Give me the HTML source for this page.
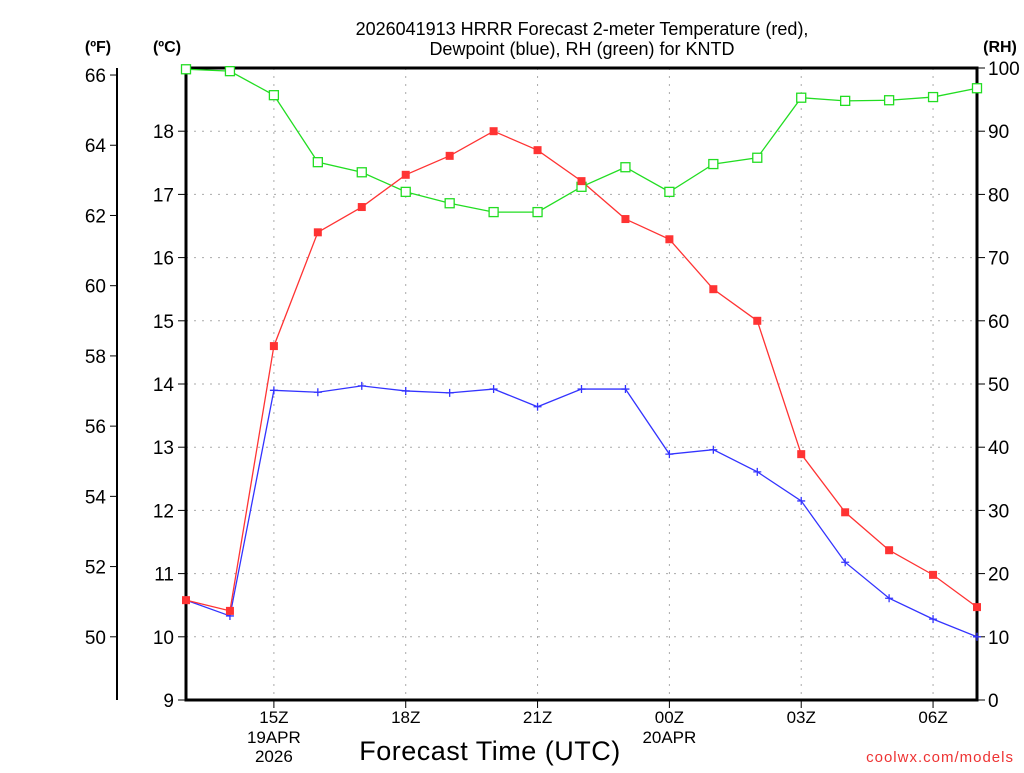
<!DOCTYPE html>
<html><head><meta charset="utf-8"><style>
body{margin:0;background:#fff;}
svg text{font-family:"Liberation Sans",sans-serif;}
</style></head><body>
<svg id="chart" width="1024" height="768" xmlns="http://www.w3.org/2000/svg">
<g id="grid"></g>
<g id="axes"></g>
<g id="series"></g>
<text x="582" y="35" text-anchor="middle" font-size="18">2026041913 HRRR Forecast 2-meter Temperature (red),</text>
<text x="582" y="55" text-anchor="middle" font-size="18">Dewpoint (blue), RH (green) for KNTD</text>
<text x="98" y="52" text-anchor="middle" font-size="16" font-weight="bold">(ºF)</text>
<text x="167" y="52" text-anchor="middle" font-size="16" font-weight="bold">(ºC)</text>
<text x="1000" y="52" text-anchor="middle" font-size="16" font-weight="bold">(RH)</text>
<text x="490" y="760" text-anchor="middle" font-size="27" letter-spacing="0.5">Forecast Time (UTC)</text>
<text x="1014" y="762" text-anchor="end" font-size="15" fill="#e33" letter-spacing="1">coolwx.com/models</text>
</svg>
<script>
const hours=[13,14,15,16,17,18,19,20,21,22,23,24,25,26,27,28,29,30,31];
const tempC=[10.58,10.41,14.6,16.4,16.8,17.31,17.61,18.0,17.7,17.21,16.61,16.29,15.5,15.0,12.89,11.97,11.37,10.98,10.47];
const dewC=[10.58,10.33,13.9,13.87,13.97,13.89,13.86,13.92,13.64,13.92,13.92,12.89,12.96,12.61,12.15,11.18,10.61,10.28,10.0];
const rh=[99.8,99.5,95.7,85.1,83.5,80.4,78.6,77.2,77.2,81.2,84.3,80.4,84.8,85.8,95.3,94.8,94.9,95.4,96.8];
const cTicks=[9,10,11,12,13,14,15,16,17,18];
const fTicks=[50,52,54,56,58,60,62,64,66];
const rhTicks=[0,10,20,30,40,50,60,70,80,90,100];
const xTickHours=[15,18,21,24,27,30];
const xTickLabels=["15Z","18Z","21Z","00Z","03Z","06Z"];
const L=186,R=977,T=68,B=700;
const NS="http://www.w3.org/2000/svg";
const xs=h=>L+(h-13)/(31-13)*(R-L);
const yc=c=>B-(c-9)*(B-T)/10;
const yf=f=>yc((f-32)/1.8);
const yr=r=>B-r*(B-T)/100;
function mk(p,tag,at,txt){const e=document.createElementNS(NS,tag);for(const k in at)e.setAttribute(k,at[k]);if(txt!==undefined)e.textContent=txt;document.getElementById(p).appendChild(e);return e;}
for(const c of cTicks){if(c>9){const g=mk('grid','line',{x1:L,x2:R,y1:yc(c),y2:yc(c),stroke:'#aaa','stroke-dasharray':'2,6'});}
 const t=mk('axes','line',{x1:L-8,x2:L,y1:yc(c),y2:yc(c),stroke:'#000'});
 const l=mk('axes','text',{x:L-12,y:yc(c)+7,'text-anchor':'end','font-size':'19'},c);}
for(const f of fTicks){const t=mk('axes','line',{x1:110,x2:117,y1:yf(f),y2:yf(f),stroke:'#000'});
 const l=mk('axes','text',{x:106,y:yf(f)+7,'text-anchor':'end','font-size':'19'},f);}
for(const r of rhTicks){const t=mk('axes','line',{x1:R,x2:R+8,y1:yr(r),y2:yr(r),stroke:'#000'});
 const l=mk('axes','text',{x:R+11,y:yr(r)+7,'text-anchor':'start','font-size':'19'},r);}
xTickHours.forEach((h,i)=>{const g=mk('grid','line',{x1:xs(h),x2:xs(h),y1:T,y2:B,stroke:'#aaa','stroke-dasharray':'2,6'});
 const t=mk('axes','line',{x1:xs(h),x2:xs(h),y1:B,y2:B+8,stroke:'#000'});
 const l=mk('axes','text',{x:xs(h),y:B+23,'text-anchor':'middle','font-size':'17'},xTickLabels[i]);});
const d1=mk('axes','text',{x:xs(15),y:B+43,'text-anchor':'middle','font-size':'17'},'19APR');
const d2=mk('axes','text',{x:xs(15),y:B+62,'text-anchor':'middle','font-size':'17'},'2026');
const d3=mk('axes','text',{x:xs(24),y:B+43,'text-anchor':'middle','font-size':'17'},'20APR');
const fa=mk('axes','line',{x1:117,x2:117,y1:T,y2:B,stroke:'#000','stroke-width':2});
const fr=mk('axes','rect',{x:L,y:T,width:R-L,height:B-T,fill:'none',stroke:'#000','stroke-width':3});
function line(vals,yfn,col,name){const pts=vals.map((v,i)=>xs(hours[i])+','+yfn(v)).join(' ');const p=mk('series','polyline',{points:pts,fill:'none',stroke:col,'stroke-width':1.3});}
line(rh,yr,'#2d2','rh');line(dewC,yc,'#33f','dewpoint');line(tempC,yc,'#f33','temperature');
rh.forEach((v,i)=>{const m=mk('series','rect',{x:xs(hours[i])-4.5,y:yr(v)-4.5,width:9,height:9,fill:'#fff',stroke:'#2d2','stroke-width':1.3});});
dewC.forEach((v,i)=>{const x=xs(hours[i]),y=yc(v);const m=mk('series','path',{d:`M${x-4},${y}H${x+4}M${x},${y-4}V${y+4}`,stroke:'#33f','stroke-width':1.3});});
tempC.forEach((v,i)=>{const m=mk('series','rect',{x:xs(hours[i])-4,y:yc(v)-4,width:8,height:8,fill:'#f33'});});
</script>
</body></html>
